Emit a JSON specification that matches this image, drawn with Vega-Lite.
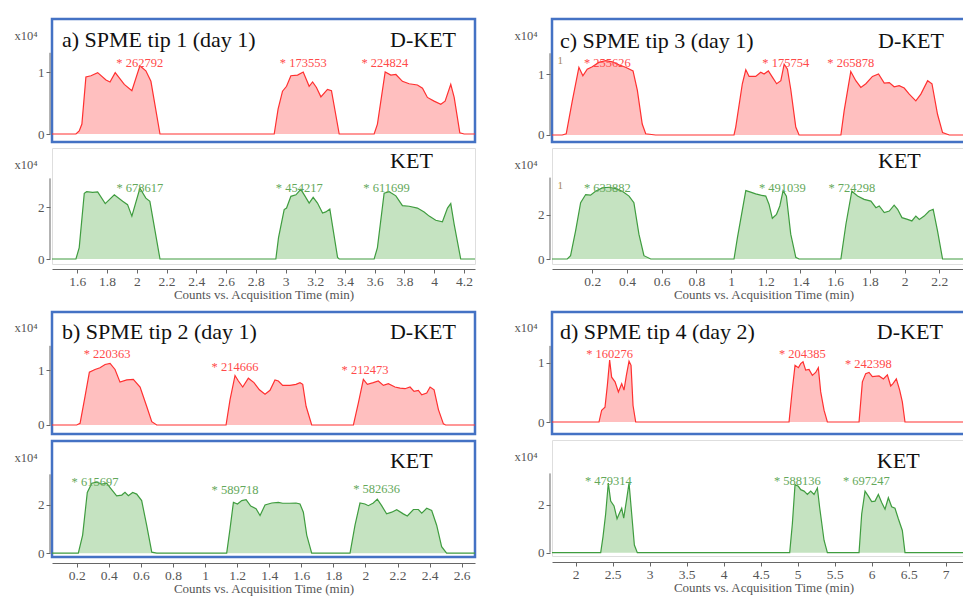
{
"$schema": "https://vega.github.io/schema/vega-lite/v6.json",
"padding": {"left": 12, "top": 17, "right": 0, "bottom": 0},
"background": "white",
"config": {
  "view": {"stroke": null},
  "font": "Liberation Serif",
  "axis": {"labelFont": "Liberation Serif", "labelFontSize": 13.5, "labelColor": "#555", "titleFont": "Liberation Serif", "titleFontWeight": "normal", "titleColor": "#555", "grid": false, "tickColor": "#666", "domainColor": "#666", "tickSize": 4, "format": "~g", "labelOverlap": false},
  "axisY": {"domain": false, "offset": 2, "labelPadding": 2, "titleAngle": 0, "titleAlign": "right", "titleBaseline": "middle", "titleX": -13, "titleY": 16, "titleFontSize": 12.5, "labelFontSize": 13},
  "axisX": {"offset": 5, "labelPadding": 1, "titlePadding": 1, "titleFontSize": 13, "labelFlush": false, "tickCount": 30},
  "text": {"font": "Liberation Serif"}
},
"datasets": {
"tr": [
{"k":"aD","t":1.43,"v":0},{"k":"aD","t":1.524,"v":0},{"k":"aD","t":1.591,"v":0},{"k":"aD","t":1.613,"v":0.05},{"k":"aD","t":1.631,"v":0.16},{"k":"aD","t":1.658,"v":0.92},{"k":"aD","t":1.692,"v":0.94},{"k":"aD","t":1.737,"v":0.99},{"k":"aD","t":1.793,"v":0.87},{"k":"aD","t":1.82,"v":0.84},{"k":"aD","t":1.855,"v":0.99},{"k":"aD","t":1.916,"v":0.8},{"k":"aD","t":1.967,"v":0.7},{"k":"aD","t":2.021,"v":1.1},{"k":"aD","t":2.061,"v":1.02},{"k":"aD","t":2.095,"v":0.85},{"k":"aD","t":2.156,"v":0},
{"k":"aD","t":2.924,"v":0},{"k":"aD","t":2.95,"v":0.4},{"k":"aD","t":2.98,"v":0.69},{"k":"aD","t":3.007,"v":0.77},{"k":"aD","t":3.036,"v":0.94},{"k":"aD","t":3.081,"v":0.95},{"k":"aD","t":3.119,"v":1.0},{"k":"aD","t":3.159,"v":0.77},{"k":"aD","t":3.182,"v":0.84},{"k":"aD","t":3.208,"v":0.75},{"k":"aD","t":3.238,"v":0.6},{"k":"aD","t":3.282,"v":0.72},{"k":"aD","t":3.309,"v":0.7},{"k":"aD","t":3.361,"v":0},
{"k":"aD","t":3.596,"v":0},{"k":"aD","t":3.618,"v":0.16},{"k":"aD","t":3.67,"v":1.0},{"k":"aD","t":3.708,"v":0.95},{"k":"aD","t":3.742,"v":0.96},{"k":"aD","t":3.786,"v":0.85},{"k":"aD","t":3.831,"v":0.81},{"k":"aD","t":3.887,"v":0.79},{"k":"aD","t":3.921,"v":0.74},{"k":"aD","t":3.954,"v":0.59},{"k":"aD","t":3.999,"v":0.53},{"k":"aD","t":4.044,"v":0.48},{"k":"aD","t":4.073,"v":0.53},{"k":"aD","t":4.111,"v":0.8},{"k":"aD","t":4.134,"v":0.59},{"k":"aD","t":4.172,"v":0.02},{"k":"aD","t":4.201,"v":0},{"k":"aD","t":4.274,"v":0},

{"k":"aK","t":1.43,"v":0},{"k":"aK","t":1.591,"v":0},{"k":"aK","t":1.613,"v":0.44},{"k":"aK","t":1.647,"v":2.53},{"k":"aK","t":1.663,"v":2.59},{"k":"aK","t":1.703,"v":2.56},{"k":"aK","t":1.737,"v":2.58},{"k":"aK","t":1.788,"v":2.13},{"k":"aK","t":1.849,"v":2.47},{"k":"aK","t":1.905,"v":2.22},{"k":"aK","t":1.938,"v":2.09},{"k":"aK","t":1.967,"v":1.65},{"k":"aK","t":2.021,"v":2.72},{"k":"aK","t":2.061,"v":2.34},{"k":"aK","t":2.088,"v":2.22},{"k":"aK","t":2.156,"v":0},
{"k":"aK","t":2.935,"v":0},{"k":"aK","t":2.953,"v":0.82},{"k":"aK","t":2.991,"v":1.9},{"k":"aK","t":3.007,"v":1.96},{"k":"aK","t":3.036,"v":2.41},{"k":"aK","t":3.07,"v":2.47},{"k":"aK","t":3.103,"v":2.68},{"k":"aK","t":3.132,"v":2.41},{"k":"aK","t":3.159,"v":2.15},{"k":"aK","t":3.186,"v":2.37},{"k":"aK","t":3.215,"v":2.15},{"k":"aK","t":3.249,"v":1.77},{"k":"aK","t":3.271,"v":1.81},{"k":"aK","t":3.298,"v":1.92},{"k":"aK","t":3.35,"v":0.06},{"k":"aK","t":3.361,"v":0},
{"k":"aK","t":3.596,"v":0},{"k":"aK","t":3.618,"v":0.44},{"k":"aK","t":3.663,"v":2.53},{"k":"aK","t":3.697,"v":2.59},{"k":"aK","t":3.742,"v":2.43},{"k":"aK","t":3.786,"v":2.05},{"k":"aK","t":3.831,"v":2.03},{"k":"aK","t":3.887,"v":1.96},{"k":"aK","t":3.932,"v":1.81},{"k":"aK","t":3.966,"v":1.65},{"k":"aK","t":4.01,"v":1.49},{"k":"aK","t":4.055,"v":1.43},{"k":"aK","t":4.089,"v":1.96},{"k":"aK","t":4.111,"v":2.13},{"k":"aK","t":4.134,"v":1.33},{"k":"aK","t":4.178,"v":0},{"k":"aK","t":4.274,"v":0},

{"k":"cD","t":-0.032,"v":0},{"k":"cD","t":0.027,"v":0},{"k":"cD","t":0.05,"v":0.02},{"k":"cD","t":0.085,"v":0.56},{"k":"cD","t":0.123,"v":1.11},{"k":"cD","t":0.146,"v":0.97},{"k":"cD","t":0.171,"v":1.08},{"k":"cD","t":0.2,"v":1.12},{"k":"cD","t":0.238,"v":1.19},{"k":"cD","t":0.277,"v":1.22},{"k":"cD","t":0.315,"v":1.2},{"k":"cD","t":0.354,"v":1.15},{"k":"cD","t":0.392,"v":1.11},{"k":"cD","t":0.435,"v":1.05},{"k":"cD","t":0.46,"v":0.73},{"k":"cD","t":0.488,"v":0.18},{"k":"cD","t":0.508,"v":0.02},{"k":"cD","t":0.565,"v":0},
{"k":"cD","t":1.017,"v":0},{"k":"cD","t":1.027,"v":0.13},{"k":"cD","t":1.065,"v":0.84},{"k":"cD","t":1.085,"v":1.07},{"k":"cD","t":1.104,"v":0.96},{"k":"cD","t":1.142,"v":0.96},{"k":"cD","t":1.171,"v":1.03},{"k":"cD","t":1.19,"v":1.0},{"k":"cD","t":1.215,"v":1.05},{"k":"cD","t":1.238,"v":0.95},{"k":"cD","t":1.263,"v":0.84},{"k":"cD","t":1.287,"v":0.89},{"k":"cD","t":1.306,"v":1.16},{"k":"cD","t":1.325,"v":1.08},{"k":"cD","t":1.344,"v":0.75},{"k":"cD","t":1.373,"v":0.13},{"k":"cD","t":1.392,"v":0},
{"k":"cD","t":1.633,"v":0},{"k":"cD","t":1.652,"v":0.4},{"k":"cD","t":1.69,"v":1.04},{"k":"cD","t":1.719,"v":0.89},{"k":"cD","t":1.748,"v":0.78},{"k":"cD","t":1.777,"v":0.84},{"k":"cD","t":1.815,"v":0.96},{"k":"cD","t":1.85,"v":1.0},{"k":"cD","t":1.883,"v":0.85},{"k":"cD","t":1.912,"v":0.86},{"k":"cD","t":1.94,"v":0.79},{"k":"cD","t":1.969,"v":0.81},{"k":"cD","t":1.998,"v":0.77},{"k":"cD","t":2.027,"v":0.67},{"k":"cD","t":2.065,"v":0.56},{"k":"cD","t":2.094,"v":0.67},{"k":"cD","t":2.133,"v":0.89},{"k":"cD","t":2.158,"v":0.84},{"k":"cD","t":2.19,"v":0.34},{"k":"cD","t":2.219,"v":0.04},{"k":"cD","t":2.258,"v":0},{"k":"cD","t":2.406,"v":0},

{"k":"cK","t":-0.032,"v":0},{"k":"cK","t":0.056,"v":0},{"k":"cK","t":0.075,"v":0.15},{"k":"cK","t":0.104,"v":1.28},{"k":"cK","t":0.133,"v":2.56},{"k":"cK","t":0.162,"v":2.93},{"k":"cK","t":0.19,"v":2.9},{"k":"cK","t":0.219,"v":3.08},{"k":"cK","t":0.258,"v":3.23},{"k":"cK","t":0.296,"v":3.26},{"k":"cK","t":0.335,"v":3.2},{"k":"cK","t":0.373,"v":3.08},{"k":"cK","t":0.412,"v":2.86},{"k":"cK","t":0.44,"v":2.56},{"k":"cK","t":0.469,"v":1.13},{"k":"cK","t":0.498,"v":0.15},{"k":"cK","t":0.537,"v":0},
{"k":"cK","t":1.017,"v":0},{"k":"cK","t":1.037,"v":0.98},{"k":"cK","t":1.085,"v":3.11},{"k":"cK","t":1.113,"v":3.04},{"k":"cK","t":1.142,"v":2.96},{"k":"cK","t":1.171,"v":2.9},{"k":"cK","t":1.2,"v":2.86},{"k":"cK","t":1.219,"v":2.48},{"k":"cK","t":1.238,"v":1.85},{"k":"cK","t":1.262,"v":2.03},{"k":"cK","t":1.281,"v":2.41},{"k":"cK","t":1.3,"v":3.11},{"k":"cK","t":1.319,"v":2.86},{"k":"cK","t":1.344,"v":1.13},{"k":"cK","t":1.373,"v":0.08},{"k":"cK","t":1.392,"v":0},
{"k":"cK","t":1.633,"v":0},{"k":"cK","t":1.662,"v":1.58},{"k":"cK","t":1.696,"v":3.08},{"k":"cK","t":1.729,"v":2.86},{"k":"cK","t":1.767,"v":2.71},{"k":"cK","t":1.806,"v":2.63},{"k":"cK","t":1.835,"v":2.33},{"k":"cK","t":1.854,"v":2.41},{"k":"cK","t":1.883,"v":2.11},{"k":"cK","t":1.912,"v":2.18},{"k":"cK","t":1.94,"v":2.45},{"k":"cK","t":1.96,"v":2.26},{"k":"cK","t":1.985,"v":1.88},{"k":"cK","t":2.017,"v":1.8},{"k":"cK","t":2.042,"v":1.73},{"k":"cK","t":2.065,"v":1.95},{"k":"cK","t":2.085,"v":1.8},{"k":"cK","t":2.113,"v":1.95},{"k":"cK","t":2.142,"v":2.18},{"k":"cK","t":2.165,"v":2.26},{"k":"cK","t":2.19,"v":1.28},{"k":"cK","t":2.219,"v":0},{"k":"cK","t":2.406,"v":0},

{"k":"bD","t":0.046,"v":0},{"k":"bD","t":0.2,"v":0},{"k":"bD","t":0.221,"v":0.03},{"k":"bD","t":0.252,"v":0.52},{"k":"bD","t":0.279,"v":0.96},{"k":"bD","t":0.314,"v":1.01},{"k":"bD","t":0.345,"v":1.04},{"k":"bD","t":0.377,"v":1.1},{"k":"bD","t":0.408,"v":1.12},{"k":"bD","t":0.439,"v":1.01},{"k":"bD","t":0.47,"v":0.78},{"k":"bD","t":0.512,"v":0.82},{"k":"bD","t":0.553,"v":0.83},{"k":"bD","t":0.595,"v":0.69},{"k":"bD","t":0.636,"v":0.34},{"k":"bD","t":0.668,"v":0.06},{"k":"bD","t":0.699,"v":0},
{"k":"bD","t":1.131,"v":0},{"k":"bD","t":1.156,"v":0.46},{"k":"bD","t":1.187,"v":0.9},{"k":"bD","t":1.208,"v":0.8},{"k":"bD","t":1.235,"v":0.69},{"k":"bD","t":1.27,"v":0.85},{"k":"bD","t":1.305,"v":0.77},{"k":"bD","t":1.339,"v":0.64},{"k":"bD","t":1.374,"v":0.56},{"k":"bD","t":1.405,"v":0.63},{"k":"bD","t":1.436,"v":0.82},{"k":"bD","t":1.457,"v":0.8},{"k":"bD","t":1.484,"v":0.72},{"k":"bD","t":1.53,"v":0.72},{"k":"bD","t":1.567,"v":0.74},{"k":"bD","t":1.592,"v":0.77},{"k":"bD","t":1.609,"v":0.74},{"k":"bD","t":1.63,"v":0.34},{"k":"bD","t":1.665,"v":0},
{"k":"bD","t":1.925,"v":0},{"k":"bD","t":1.956,"v":0.4},{"k":"bD","t":1.987,"v":0.83},{"k":"bD","t":2.012,"v":0.74},{"k":"bD","t":2.049,"v":0.77},{"k":"bD","t":2.08,"v":0.8},{"k":"bD","t":2.112,"v":0.72},{"k":"bD","t":2.143,"v":0.75},{"k":"bD","t":2.184,"v":0.69},{"k":"bD","t":2.216,"v":0.67},{"k":"bD","t":2.247,"v":0.66},{"k":"bD","t":2.278,"v":0.69},{"k":"bD","t":2.303,"v":0.61},{"k":"bD","t":2.33,"v":0.63},{"k":"bD","t":2.351,"v":0.55},{"k":"bD","t":2.382,"v":0.58},{"k":"bD","t":2.403,"v":0.69},{"k":"bD","t":2.428,"v":0.64},{"k":"bD","t":2.455,"v":0.28},{"k":"bD","t":2.486,"v":0.02},{"k":"bD","t":2.5,"v":0},{"k":"bD","t":2.683,"v":0},

{"k":"bK","t":0.046,"v":0},{"k":"bK","t":0.21,"v":0},{"k":"bK","t":0.237,"v":0.75},{"k":"bK","t":0.266,"v":2.52},{"k":"bK","t":0.294,"v":2.9},{"k":"bK","t":0.325,"v":2.95},{"k":"bK","t":0.356,"v":2.86},{"k":"bK","t":0.387,"v":2.9},{"k":"bK","t":0.408,"v":2.72},{"k":"bK","t":0.449,"v":2.38},{"k":"bK","t":0.481,"v":2.41},{"k":"bK","t":0.501,"v":2.52},{"k":"bK","t":0.522,"v":2.38},{"k":"bK","t":0.549,"v":2.52},{"k":"bK","t":0.574,"v":2.45},{"k":"bK","t":0.605,"v":2.18},{"k":"bK","t":0.636,"v":1.16},{"k":"bK","t":0.668,"v":0.04},{"k":"bK","t":0.699,"v":0},
{"k":"bK","t":1.135,"v":0},{"k":"bK","t":1.156,"v":1.02},{"k":"bK","t":1.177,"v":2.11},{"k":"bK","t":1.202,"v":2.04},{"k":"bK","t":1.229,"v":2.18},{"k":"bK","t":1.256,"v":2.22},{"k":"bK","t":1.285,"v":1.95},{"k":"bK","t":1.318,"v":1.84},{"k":"bK","t":1.343,"v":1.56},{"k":"bK","t":1.374,"v":2.0},{"k":"bK","t":1.416,"v":2.08},{"k":"bK","t":1.457,"v":2.11},{"k":"bK","t":1.484,"v":2.07},{"k":"bK","t":1.526,"v":2.07},{"k":"bK","t":1.567,"v":2.08},{"k":"bK","t":1.592,"v":2.04},{"k":"bK","t":1.613,"v":1.7},{"k":"bK","t":1.634,"v":0.75},{"k":"bK","t":1.665,"v":0},
{"k":"bK","t":1.904,"v":0},{"k":"bK","t":1.935,"v":1.16},{"k":"bK","t":1.966,"v":2.08},{"k":"bK","t":1.997,"v":2.04},{"k":"bK","t":2.018,"v":1.97},{"k":"bK","t":2.049,"v":2.08},{"k":"bK","t":2.074,"v":2.24},{"k":"bK","t":2.101,"v":1.97},{"k":"bK","t":2.132,"v":1.63},{"k":"bK","t":2.164,"v":1.7},{"k":"bK","t":2.195,"v":1.8},{"k":"bK","t":2.236,"v":1.63},{"k":"bK","t":2.261,"v":1.54},{"k":"bK","t":2.299,"v":1.81},{"k":"bK","t":2.33,"v":1.81},{"k":"bK","t":2.351,"v":1.66},{"k":"bK","t":2.382,"v":1.86},{"k":"bK","t":2.413,"v":1.77},{"k":"bK","t":2.444,"v":1.16},{"k":"bK","t":2.475,"v":0.27},{"k":"bK","t":2.506,"v":0},{"k":"bK","t":2.683,"v":0},

{"k":"dD","t":1.68,"v":0},{"k":"dD","t":2.315,"v":0},{"k":"dD","t":2.351,"v":0.2},{"k":"dD","t":2.396,"v":0.25},{"k":"dD","t":2.428,"v":0.62},{"k":"dD","t":2.459,"v":1.05},{"k":"dD","t":2.486,"v":0.76},{"k":"dD","t":2.532,"v":0.68},{"k":"dD","t":2.577,"v":0.51},{"k":"dD","t":2.622,"v":0.65},{"k":"dD","t":2.653,"v":0.54},{"k":"dD","t":2.685,"v":0.79},{"k":"dD","t":2.721,"v":1.03},{"k":"dD","t":2.748,"v":0.96},{"k":"dD","t":2.775,"v":0.28},{"k":"dD","t":2.811,"v":0},
{"k":"dD","t":4.883,"v":0},{"k":"dD","t":4.928,"v":0.56},{"k":"dD","t":4.964,"v":0.96},{"k":"dD","t":5.009,"v":0.92},{"k":"dD","t":5.041,"v":0.99},{"k":"dD","t":5.072,"v":1.02},{"k":"dD","t":5.108,"v":0.88},{"k":"dD","t":5.153,"v":0.89},{"k":"dD","t":5.198,"v":0.79},{"k":"dD","t":5.243,"v":0.84},{"k":"dD","t":5.279,"v":0.92},{"k":"dD","t":5.311,"v":0.51},{"k":"dD","t":5.356,"v":0.2},{"k":"dD","t":5.401,"v":0},
{"k":"dD","t":5.829,"v":0},{"k":"dD","t":5.874,"v":0.68},{"k":"dD","t":5.919,"v":0.82},{"k":"dD","t":5.964,"v":0.84},{"k":"dD","t":6.009,"v":0.77},{"k":"dD","t":6.099,"v":0.78},{"k":"dD","t":6.158,"v":0.73},{"k":"dD","t":6.212,"v":0.8},{"k":"dD","t":6.257,"v":0.61},{"k":"dD","t":6.288,"v":0.65},{"k":"dD","t":6.333,"v":0.73},{"k":"dD","t":6.378,"v":0.54},{"k":"dD","t":6.414,"v":0.34},{"k":"dD","t":6.45,"v":0},{"k":"dD","t":7.396,"v":0},

{"k":"dK","t":1.68,"v":0},{"k":"dK","t":2.338,"v":0},{"k":"dK","t":2.369,"v":0.66},{"k":"dK","t":2.405,"v":1.62},{"k":"dK","t":2.441,"v":2.92},{"k":"dK","t":2.473,"v":2.16},{"k":"dK","t":2.518,"v":1.96},{"k":"dK","t":2.559,"v":1.42},{"k":"dK","t":2.595,"v":1.68},{"k":"dK","t":2.622,"v":1.86},{"k":"dK","t":2.649,"v":1.45},{"k":"dK","t":2.685,"v":2.16},{"k":"dK","t":2.721,"v":2.92},{"k":"dK","t":2.757,"v":1.62},{"k":"dK","t":2.793,"v":0.32},{"k":"dK","t":2.833,"v":0},
{"k":"dK","t":4.892,"v":0},{"k":"dK","t":4.928,"v":1.21},{"k":"dK","t":4.964,"v":2.85},{"k":"dK","t":5.009,"v":2.78},{"k":"dK","t":5.041,"v":2.64},{"k":"dK","t":5.086,"v":2.58},{"k":"dK","t":5.131,"v":2.44},{"k":"dK","t":5.176,"v":2.58},{"k":"dK","t":5.221,"v":2.44},{"k":"dK","t":5.266,"v":2.71},{"k":"dK","t":5.297,"v":1.89},{"k":"dK","t":5.356,"v":0.52},{"k":"dK","t":5.401,"v":0},
{"k":"dK","t":5.829,"v":0},{"k":"dK","t":5.865,"v":1.62},{"k":"dK","t":5.91,"v":2.58},{"k":"dK","t":5.955,"v":2.37},{"k":"dK","t":6.0,"v":2.14},{"k":"dK","t":6.045,"v":2.16},{"k":"dK","t":6.09,"v":2.44},{"k":"dK","t":6.135,"v":2.1},{"k":"dK","t":6.18,"v":1.82},{"k":"dK","t":6.225,"v":2.3},{"k":"dK","t":6.27,"v":1.92},{"k":"dK","t":6.315,"v":1.86},{"k":"dK","t":6.36,"v":1.42},{"k":"dK","t":6.414,"v":0.93},{"k":"dK","t":6.45,"v":0},{"k":"dK","t":7.396,"v":0}
],
"pk": [
{"k":"aD","t":2.02,"v":1.15,"label":"* 262792"},{"k":"aD","t":3.119,"v":1.15,"label":"* 173553"},{"k":"aD","t":3.668,"v":1.15,"label":"* 224824"},
{"k":"aK","t":2.021,"v":2.74,"label":"* 678617"},{"k":"aK","t":3.092,"v":2.74,"label":"* 454217"},{"k":"aK","t":3.679,"v":2.74,"label":"* 611699"},
{"k":"cD","t":0.287,"v":1.185,"label":"* 255626"},{"k":"cD","t":1.315,"v":1.185,"label":"* 175754"},{"k":"cD","t":1.69,"v":1.185,"label":"* 265878"},
{"k":"cK","t":0.287,"v":3.24,"label":"* 633882"},{"k":"cK","t":1.296,"v":3.24,"label":"* 491039"},{"k":"cK","t":1.696,"v":3.24,"label":"* 724298"},
{"k":"bD","t":0.39,"v":1.29,"label":"* 220363"},{"k":"bD","t":1.187,"v":1.06,"label":"* 214666"},{"k":"bD","t":1.997,"v":1.005,"label":"* 212473"},
{"k":"bK","t":0.314,"v":2.94,"label":"* 615697"},{"k":"bK","t":1.187,"v":2.64,"label":"* 589718"},{"k":"bK","t":2.07,"v":2.67,"label":"* 582636"},
{"k":"dD","t":2.459,"v":1.15,"label":"* 160276"},{"k":"dD","t":5.063,"v":1.15,"label":"* 204385"},{"k":"dD","t":5.955,"v":0.99,"label":"* 242398"},
{"k":"dK","t":2.441,"v":2.99,"label":"* 479314"},{"k":"dK","t":4.995,"v":2.99,"label":"* 588136"},{"k":"dK","t":5.928,"v":2.99,"label":"* 697247"}
]
},
"spacing": 8,
"vconcat": [
{"hconcat": [
 {"spacing": 3, "vconcat": [
  {"width": 423, "height": 123, "view": {"stroke": "#4472c4", "strokeWidth": 2.5},
   "layer": [
    {"data": {"name": "tr"}, "transform": [{"filter": "datum.k=='aD'"}],
     "mark": {"type": "area", "color": "#ffbfbf", "fillOpacity": 1, "line": {"color": "#ff3030", "strokeWidth": 1.2}},
     "encoding": {"x": {"field": "t", "type": "quantitative", "scale": {"domain": [1.43, 4.274], "nice": false, "zero": false}, "axis": null},
      "y": {"field": "v", "type": "quantitative", "scale": {"domain": [-0.129, 1.855], "nice": false, "zero": false}, "axis": {"values": [0, 1], "title": "x10⁴"}},
      "y2": {"datum": 0}}},
    {"data": {"name": "pk"}, "transform": [{"filter": "datum.k=='aD'"}],
     "mark": {"type": "text", "color": "#ff4a4a", "fontSize": 12.5, "baseline": "middle"},
     "encoding": {"x": {"field": "t", "type": "quantitative", "axis": null}, "y": {"field": "v", "type": "quantitative"}, "text": {"field": "label"}}},
    {"data": {"values": [{}]}, "mark": {"type": "text", "align": "left", "baseline": "middle", "fontSize": 22, "color": "#111"},
     "encoding": {"x": {"datum": 1.497, "axis": null}, "y": {"datum": 1.516}, "text": {"value": "a) SPME tip 1 (day 1)"}}},
    {"data": {"values": [{}]}, "mark": {"type": "text", "align": "left", "baseline": "middle", "fontSize": 22, "color": "#111"},
     "encoding": {"x": {"datum": 3.703, "axis": null}, "y": {"datum": 1.516}, "text": {"value": "D-KET"}}},
    {"data": {"values": [{}]}, "mark": {"type": "rule", "color": "#666", "strokeWidth": 1},
     "encoding": {"x": {"datum": 1.4166, "axis": null}, "y": {"datum": 0}, "y2": {"datum": 1.31}}}
   ]},
  {"width": 423, "height": 116, "view": {"stroke": "#dedede", "strokeWidth": 1},
   "layer": [
    {"data": {"name": "tr"}, "transform": [{"filter": "datum.k=='aK'"}],
     "mark": {"type": "area", "color": "#c5e3c1", "fillOpacity": 1, "line": {"color": "#3f9c3f", "strokeWidth": 1.2}},
     "encoding": {"x": {"field": "t", "type": "quantitative", "scale": {"domain": [1.43, 4.274], "nice": false, "zero": false}, "axis": {"values": [1.6,1.8,2,2.2,2.4,2.6,2.8,3,3.2,3.4,3.6,3.8,4,4.2], "tickCount": 30, "labelOverlap": false, "title": "Counts vs. Acquisition Time (min)"}},
      "y": {"field": "v", "type": "quantitative", "scale": {"domain": [-0.192, 4.269], "nice": false, "zero": false}, "axis": {"values": [0, 2], "title": "x10⁴"}},
      "y2": {"datum": 0}}},
    {"data": {"name": "pk"}, "transform": [{"filter": "datum.k=='aK'"}],
     "mark": {"type": "text", "color": "#64a85a", "fontSize": 12.5, "baseline": "middle"},
     "encoding": {"x": {"field": "t", "type": "quantitative"}, "y": {"field": "v", "type": "quantitative"}, "text": {"field": "label"}}},
    {"data": {"values": [{}]}, "mark": {"type": "text", "align": "left", "baseline": "middle", "fontSize": 22, "color": "#111"},
     "encoding": {"x": {"datum": 3.703}, "y": {"datum": 3.77}, "text": {"value": "KET"}}},
    {"data": {"values": [{}]}, "mark": {"type": "rule", "color": "#666", "strokeWidth": 1},
     "encoding": {"x": {"datum": 1.4166}, "y": {"datum": 0}, "y2": {"datum": 3.1}}}
   ]}
 ]},
 {"spacing": 3, "vconcat": [
  {"width": 423, "height": 123, "view": {"stroke": "#4472c4", "strokeWidth": 2.5},
   "layer": [
    {"data": {"name": "tr"}, "transform": [{"filter": "datum.k=='cD'"}],
     "mark": {"type": "area", "color": "#ffbfbf", "fillOpacity": 1, "line": {"color": "#ff3030", "strokeWidth": 1.2}},
     "encoding": {"x": {"field": "t", "type": "quantitative", "scale": {"domain": [-0.032, 2.406], "nice": false, "zero": false}, "axis": null},
      "y": {"field": "v", "type": "quantitative", "scale": {"domain": [-0.115, 1.902], "nice": false, "zero": false}, "axis": {"values": [0, 1], "title": "x10⁴"}},
      "y2": {"datum": 0}}},
    {"data": {"name": "pk"}, "transform": [{"filter": "datum.k=='cD'"}],
     "mark": {"type": "text", "color": "#ff4a4a", "fontSize": 12.5, "baseline": "middle"},
     "encoding": {"x": {"field": "t", "type": "quantitative", "axis": null}, "y": {"field": "v", "type": "quantitative"}, "text": {"field": "label"}}},
    {"data": {"values": [{}]}, "mark": {"type": "text", "align": "left", "baseline": "middle", "fontSize": 22, "color": "#111"},
     "encoding": {"x": {"datum": 0.014, "axis": null}, "y": {"datum": 1.54}, "text": {"value": "c) SPME tip 3 (day 1)"}}},
    {"data": {"values": [{}]}, "mark": {"type": "text", "align": "left", "baseline": "middle", "fontSize": 22, "color": "#111"},
     "encoding": {"x": {"datum": 1.847, "axis": null}, "y": {"datum": 1.54}, "text": {"value": "D-KET"}}},
    {"data": {"values": [{}]}, "mark": {"type": "text", "align": "left", "baseline": "middle", "fontSize": 11, "color": "#a8865a"},
     "encoding": {"x": {"datum": 0.0, "axis": null}, "y": {"datum": 1.21}, "text": {"value": "1"}}},
    {"data": {"values": [{}]}, "mark": {"type": "rule", "color": "#666", "strokeWidth": 1},
     "encoding": {"x": {"datum": -0.0435, "axis": null}, "y": {"datum": 0}, "y2": {"datum": 1.34}}}
   ]},
  {"width": 423, "height": 116, "view": {"stroke": "#dedede", "strokeWidth": 1},
   "layer": [
    {"data": {"name": "tr"}, "transform": [{"filter": "datum.k=='cK'"}],
     "mark": {"type": "area", "color": "#c5e3c1", "fillOpacity": 1, "line": {"color": "#3f9c3f", "strokeWidth": 1.2}},
     "encoding": {"x": {"field": "t", "type": "quantitative", "scale": {"domain": [-0.032, 2.406], "nice": false, "zero": false}, "axis": {"values": [0.2,0.4,0.6,0.8,1,1.2,1.4,1.6,1.8,2,2.2], "tickCount": 30, "labelOverlap": false, "title": "Counts vs. Acquisition Time (min)"}},
      "y": {"field": "v", "type": "quantitative", "scale": {"domain": [-0.227, 5.045], "nice": false, "zero": false}, "axis": {"values": [0, 2], "title": "x10⁴"}},
      "y2": {"datum": 0}}},
    {"data": {"name": "pk"}, "transform": [{"filter": "datum.k=='cK'"}],
     "mark": {"type": "text", "color": "#64a85a", "fontSize": 12.5, "baseline": "middle"},
     "encoding": {"x": {"field": "t", "type": "quantitative"}, "y": {"field": "v", "type": "quantitative"}, "text": {"field": "label"}}},
    {"data": {"values": [{}]}, "mark": {"type": "text", "align": "left", "baseline": "middle", "fontSize": 22, "color": "#111"},
     "encoding": {"x": {"datum": 1.847}, "y": {"datum": 4.45}, "text": {"value": "KET"}}},
    {"data": {"values": [{}]}, "mark": {"type": "text", "align": "left", "baseline": "middle", "fontSize": 11, "color": "#a8865a"},
     "encoding": {"x": {"datum": 0.0}, "y": {"datum": 3.32}, "text": {"value": "1"}}},
    {"data": {"values": [{}]}, "mark": {"type": "rule", "color": "#666", "strokeWidth": 1},
     "encoding": {"x": {"datum": -0.0435}, "y": {"datum": 0}, "y2": {"datum": 3.7}}}
   ]}
 ]}
], "spacing": 33},
{"hconcat": [
 {"spacing": 3, "vconcat": [
  {"width": 423, "height": 122, "view": {"stroke": "#4472c4", "strokeWidth": 2.5},
   "layer": [
    {"data": {"name": "tr"}, "transform": [{"filter": "datum.k=='bD'"}],
     "mark": {"type": "area", "color": "#ffbfbf", "fillOpacity": 1, "line": {"color": "#ff3030", "strokeWidth": 1.2}},
     "encoding": {"x": {"field": "t", "type": "quantitative", "scale": {"domain": [0.046, 2.683], "nice": false, "zero": false}, "axis": null},
      "y": {"field": "v", "type": "quantitative", "scale": {"domain": [-0.164, 2.055], "nice": false, "zero": false}, "axis": {"values": [0, 1], "title": "x10⁴", "titleY": 15}},
      "y2": {"datum": 0}}},
    {"data": {"name": "pk"}, "transform": [{"filter": "datum.k=='bD'"}],
     "mark": {"type": "text", "color": "#ff4a4a", "fontSize": 12.5, "baseline": "middle"},
     "encoding": {"x": {"field": "t", "type": "quantitative", "axis": null}, "y": {"field": "v", "type": "quantitative"}, "text": {"field": "label"}}},
    {"data": {"values": [{}]}, "mark": {"type": "text", "align": "left", "baseline": "middle", "fontSize": 22, "color": "#111"},
     "encoding": {"x": {"datum": 0.108, "axis": null}, "y": {"datum": 1.69}, "text": {"value": "b) SPME tip 2 (day 1)"}}},
    {"data": {"values": [{}]}, "mark": {"type": "text", "align": "left", "baseline": "middle", "fontSize": 22, "color": "#111"},
     "encoding": {"x": {"datum": 2.153, "axis": null}, "y": {"datum": 1.69}, "text": {"value": "D-KET"}}},
    {"data": {"values": [{}]}, "mark": {"type": "rule", "color": "#666", "strokeWidth": 1},
     "encoding": {"x": {"datum": 0.0335, "axis": null}, "y": {"datum": 0}, "y2": {"datum": 1.44}}}
   ]},
  {"width": 423, "height": 116, "view": {"stroke": "#4472c4", "strokeWidth": 2.5},
   "layer": [
    {"data": {"name": "tr"}, "transform": [{"filter": "datum.k=='bK'"}],
     "mark": {"type": "area", "color": "#c5e3c1", "fillOpacity": 1, "line": {"color": "#3f9c3f", "strokeWidth": 1.2}},
     "encoding": {"x": {"field": "t", "type": "quantitative", "scale": {"domain": [0.046, 2.683], "nice": false, "zero": false}, "axis": {"values": [0.2,0.4,0.6,0.8,1,1.2,1.4,1.6,1.8,2,2.2,2.4,2.6], "tickCount": 30, "labelOverlap": false, "title": "Counts vs. Acquisition Time (min)", "offset": 6}},
      "y": {"field": "v", "type": "quantitative", "scale": {"domain": [-0.16, 4.653], "nice": false, "zero": false}, "axis": {"values": [0, 2], "title": "x10⁴"}},
      "y2": {"datum": 0}}},
    {"data": {"name": "pk"}, "transform": [{"filter": "datum.k=='bK'"}],
     "mark": {"type": "text", "color": "#64a85a", "fontSize": 12.5, "baseline": "middle"},
     "encoding": {"x": {"field": "t", "type": "quantitative"}, "y": {"field": "v", "type": "quantitative"}, "text": {"field": "label"}}},
    {"data": {"values": [{}]}, "mark": {"type": "text", "align": "left", "baseline": "middle", "fontSize": 22, "color": "#111"},
     "encoding": {"x": {"datum": 2.153}, "y": {"datum": 3.84}, "text": {"value": "KET"}}},
    {"data": {"values": [{}]}, "mark": {"type": "rule", "color": "#666", "strokeWidth": 1},
     "encoding": {"x": {"datum": 0.0335}, "y": {"datum": 0}, "y2": {"datum": 3.27}}}
   ]}
 ]},
 {"spacing": 3, "vconcat": [
  {"width": 423, "height": 122, "view": {"stroke": "#4472c4", "strokeWidth": 2.5},
   "layer": [
    {"data": {"name": "tr"}, "transform": [{"filter": "datum.k=='dD'"}],
     "mark": {"type": "area", "color": "#ffbfbf", "fillOpacity": 1, "line": {"color": "#ff3030", "strokeWidth": 1.2}},
     "encoding": {"x": {"field": "t", "type": "quantitative", "scale": {"domain": [1.68, 7.396], "nice": false, "zero": false}, "axis": null},
      "y": {"field": "v", "type": "quantitative", "scale": {"domain": [-0.203, 1.864], "nice": false, "zero": false}, "axis": {"values": [0, 1], "title": "x10⁴", "titleY": 15}},
      "y2": {"datum": 0}}},
    {"data": {"name": "pk"}, "transform": [{"filter": "datum.k=='dD'"}],
     "mark": {"type": "text", "color": "#ff4a4a", "fontSize": 12.5, "baseline": "middle"},
     "encoding": {"x": {"field": "t", "type": "quantitative", "axis": null}, "y": {"field": "v", "type": "quantitative"}, "text": {"field": "label"}}},
    {"data": {"values": [{}]}, "mark": {"type": "text", "align": "left", "baseline": "middle", "fontSize": 22, "color": "#111"},
     "encoding": {"x": {"datum": 1.788, "axis": null}, "y": {"datum": 1.525}, "text": {"value": "d) SPME tip 4 (day 2)"}}},
    {"data": {"values": [{}]}, "mark": {"type": "text", "align": "left", "baseline": "middle", "fontSize": 22, "color": "#111"},
     "encoding": {"x": {"datum": 6.07, "axis": null}, "y": {"datum": 1.525}, "text": {"value": "D-KET"}}},
    {"data": {"values": [{}]}, "mark": {"type": "rule", "color": "#666", "strokeWidth": 1},
     "encoding": {"x": {"datum": 1.653, "axis": null}, "y": {"datum": 0}, "y2": {"datum": 1.29}}}
   ]},
  {"width": 423, "height": 116, "view": {"stroke": "#dedede", "strokeWidth": 1},
   "layer": [
    {"data": {"name": "tr"}, "transform": [{"filter": "datum.k=='dK'"}],
     "mark": {"type": "area", "color": "#c5e3c1", "fillOpacity": 1, "line": {"color": "#3f9c3f", "strokeWidth": 1.2}},
     "encoding": {"x": {"field": "t", "type": "quantitative", "scale": {"domain": [1.68, 7.396], "nice": false, "zero": false}, "axis": {"values": [2,2.5,3,3.5,4,4.5,5,5.5,6,6.5,7], "tickCount": 30, "labelOverlap": false, "title": "Counts vs. Acquisition Time (min)", "offset": 6}},
      "y": {"field": "v", "type": "quantitative", "scale": {"domain": [-0.14, 4.72], "nice": false, "zero": false}, "axis": {"values": [0, 2], "title": "x10⁴"}},
      "y2": {"datum": 0}}},
    {"data": {"name": "pk"}, "transform": [{"filter": "datum.k=='dK'"}],
     "mark": {"type": "text", "color": "#64a85a", "fontSize": 12.5, "baseline": "middle"},
     "encoding": {"x": {"field": "t", "type": "quantitative"}, "y": {"field": "v", "type": "quantitative"}, "text": {"field": "label"}}},
    {"data": {"values": [{}]}, "mark": {"type": "text", "align": "left", "baseline": "middle", "fontSize": 22, "color": "#111"},
     "encoding": {"x": {"datum": 6.07}, "y": {"datum": 3.86}, "text": {"value": "KET"}}},
    {"data": {"values": [{}]}, "mark": {"type": "rule", "color": "#666", "strokeWidth": 1},
     "encoding": {"x": {"datum": 1.653}, "y": {"datum": 0}, "y2": {"datum": 3.32}}}
   ]}
 ]}
], "spacing": 33}
]
}
